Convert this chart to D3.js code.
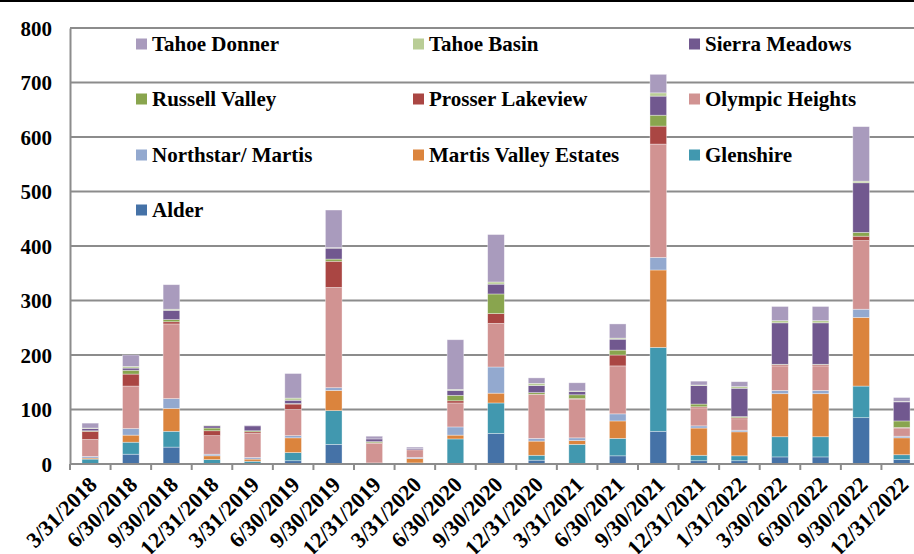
<!DOCTYPE html>
<html>
<head>
<meta charset="utf-8">
<script src="https://cdn.jsdelivr.net/npm/d3@7"></script>
<style>
  body { margin: 0; background: #fff; }
  svg { display: block; }
  text { font-family: "Liberation Serif", "Times New Roman", serif; font-weight: bold; fill: #000; }
</style>
</head>
<body>
<div id="chart"></div>
<script>
const categories = ["3/31/2018", "6/30/2018", "9/30/2018", "12/31/2018", "3/31/2019", "6/30/2019",
    "9/30/2019", "12/31/2019", "3/31/2020", "6/30/2020", "9/30/2020", "12/31/2020", "3/31/2021",
    "6/30/2021", "9/30/2021", "12/31/2021", "1/31/2022", "3/30/2022", "6/30/2022", "9/30/2022", "12/31/2022"];

// stacked bottom to top
const seriesNames = ["Alder", "Glenshire", "Martis Valley Estates", "Northstar/ Martis", "Olympic Heights",
    "Prosser Lakeview", "Russell Valley", "Sierra Meadows", "Tahoe Basin", "Tahoe Donner"];

const alder       = [0, 18, 31, 1, 1, 6, 36, 0, 0, 1, 56, 7, 1, 15, 60, 6, 6, 13, 13, 85, 8];
const glenshire   = [9, 22, 29, 7, 4, 15, 62, 0, 2, 45, 56, 9, 35, 32, 154, 10, 9, 37, 37, 58, 9];
const martisValley= [2, 13, 42, 7, 4, 27, 37, 1, 8, 7, 18, 26, 7, 32, 142, 50, 44, 79, 79, 126, 31];
const northstar   = [3, 12, 18, 3, 3, 4, 5, 1, 2, 15, 48, 5, 5, 13, 23, 4, 3, 6, 6, 15, 3];
const olympic     = [31, 78, 137, 34, 44, 48, 184, 36, 14, 44, 80, 81, 71, 88, 208, 33, 21, 45, 45, 126, 15];
const prosser     = [15, 22, 4, 9, 3, 10, 48, 1, 0, 4, 18, 0, 1, 20, 33, 2, 2, 2, 2, 8, 1];
const russell     = [1, 7, 4, 5, 2, 1, 4, 2, 0, 10, 36, 3, 7, 9, 20, 5, 2, 1, 1, 7, 12];
const sierra      = [4, 4, 17, 4, 9, 6, 20, 5, 2, 9, 18, 13, 6, 20, 35, 34, 52, 76, 76, 91, 35];
const tahoeBasin  = [1, 3, 2, 1, 0, 4, 1, 0, 0, 2, 4, 4, 1, 2, 6, 1, 3, 4, 4, 3, 1];
const tahoeDonner = [9, 21, 45, 0, 1, 45, 69, 5, 3, 91, 87, 10, 15, 26, 34, 7, 9, 26, 26, 100, 7];

const yTicks = [0, 100, 200, 300, 400, 500, 600, 700, 800];

const colors = ["#4572a7", "#4198af", "#db843d", "#93a9cf", "#d19392",
    "#aa4643", "#89a54e", "#71588f", "#b9cd96", "#a99bbd"];

const values = [alder, glenshire, martisValley, northstar, olympic, prosser, russell, sierra, tahoeBasin, tahoeDonner];

const width = 914, height = 554;
const plotLeft = 70, plotRight = 922, plotTop = 28, plotBottom = 464;

const rows = categories.map((c, i) => {
    const r = { cat: c };
    seriesNames.forEach((s, j) => r[s] = values[j][i]);
    return r;
});

const stacked = d3.stack().keys(seriesNames)(rows);

const x = d3.scaleBand().domain(categories).range([plotLeft, plotRight]).paddingInner(0.59).paddingOuter(0.295);
const y = d3.scaleLinear().domain([0, 800]).range([plotBottom, plotTop]);

const svg = d3.select("#chart").append("svg")
    .attr("width", width)
    .attr("height", height);

// frame line at the top
svg.append("rect").attr("x", 0).attr("y", 0).attr("width", width).attr("height", 2).attr("fill", "#000");

// gridlines
svg.append("g")
    .selectAll("line")
    .data(yTicks.filter(d => d > 0))
    .join("line")
    .attr("x1", plotLeft).attr("x2", plotRight)
    .attr("y1", d => y(d)).attr("y2", d => y(d))
    .attr("stroke", "#8c8c8c")
    .attr("stroke-width", 2);

// bars
svg.append("g")
    .selectAll("g")
    .data(stacked)
    .join("g")
    .attr("fill", (d, i) => colors[i])
    .selectAll("rect")
    .data(d => d)
    .join("rect")
    .attr("x", d => x(d.data.cat))
    .attr("width", x.bandwidth())
    .attr("y", d => y(d[1]))
    .attr("height", d => y(d[0]) - y(d[1]))
    .attr("stroke", "#ffffff")
    .attr("stroke-opacity", 0.5)
    .attr("stroke-width", 0.7);

// y axis
const yAxis = svg.append("g")
    .attr("transform", `translate(${plotLeft},0)`)
    .call(d3.axisLeft(y).tickValues(yTicks).tickSize(0).tickPadding(18));
yAxis.select(".domain").attr("stroke", "#8c8c8c").attr("stroke-width", 2);
yAxis.selectAll("text").attr("font-size", 21).attr("font-family", null).attr("dy", "0.35em");

// x axis
const xAxis = svg.append("g")
    .attr("transform", `translate(0,${plotBottom})`);
xAxis.append("line")
    .attr("x1", plotLeft).attr("x2", plotRight)
    .attr("stroke", "#8c8c8c").attr("stroke-width", 2);
const step = x.step();
xAxis.selectAll("line.tick")
    .data(d3.range(categories.length + 1))
    .join("line")
    .attr("class", "tick")
    .attr("x1", d => plotLeft + d * step).attr("x2", d => plotLeft + d * step)
    .attr("y1", 0).attr("y2", 6)
    .attr("stroke", "#8c8c8c").attr("stroke-width", 2);
xAxis.selectAll("text")
    .data(categories)
    .join("text")
    .attr("font-size", 22)
    .attr("text-anchor", "end")
    .attr("transform", d => `translate(${x(d) + x.bandwidth() / 2 + 8},${22}) rotate(-45)`)
    .text(d => d);

// legend, reversed order, 3 columns
const legendItems = seriesNames.slice().reverse();
const colX = [136, 413, 689];
const rowY = [44, 99, 155, 210];
const legend = svg.append("g")
    .selectAll("g")
    .data(legendItems)
    .join("g")
    .attr("transform", (d, i) => `translate(${colX[i % 3]},${rowY[Math.floor(i / 3)]})`);
legend.append("rect")
    .attr("x", 0).attr("y", -5.5)
    .attr("width", 11).attr("height", 11)
    .attr("fill", d => colors[seriesNames.indexOf(d)]);
legend.append("text")
    .attr("x", 16).attr("y", 7)
    .attr("font-size", 21)
    .text(d => d);
</script>
</body>
</html>
